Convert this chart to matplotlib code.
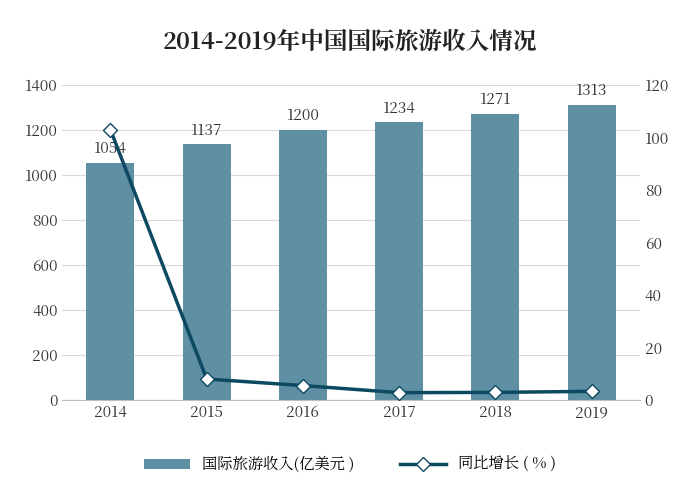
import matplotlib
matplotlib.use("Agg")
import matplotlib.pyplot as plt
from matplotlib import font_manager as fm
import glob

cjk = None
for f in fm.fontManager.ttflist:
    if 'CJK' in f.name and ('SC' in f.name or cjk is None):
        cjk = f.name
if cjk is None:
    files = glob.glob('/usr/share/fonts/**/*CJK*', recursive=True)
    for p in files:
        try:
            fm.fontManager.addfont(p)
        except Exception:
            pass
    for f in fm.fontManager.ttflist:
        if 'CJK' in f.name:
            cjk = f.name
            break
plt.rcParams['font.family'] = [cjk or 'Noto Sans CJK SC', 'DejaVu Sans']

years = ["2014", "2015", "2016", "2017", "2018", "2019"]
income = [1054, 1137, 1200, 1234, 1271, 1313]
growth = [103.0, 8.0, 5.5, 2.8, 2.9, 3.3]
bar_label = "国际旅游收入(亿美元 )"
line_label = "同比增长 ( % )"
title = "2014-2019年中国国际旅游收入情况"

fig = plt.figure(figsize=(7, 5), dpi=100)
ax = fig.add_axes([0.089, 0.2, 0.825, 0.63])
x = range(len(years))
bars = ax.bar(x, income, width=0.5, color="#5e8fa3", label=bar_label, zorder=2)
ax.set_ylim(0, 1400)
ax.set_yticks(range(0, 1401, 200))
ax.set_xlim(-0.5, len(years) - 0.5)
ax.set_xticks(list(x))
ax.set_xticklabels(years)
ax.grid(axis='y', color='#d9d9d9', lw=0.8, zorder=0)
for s in ['top', 'right', 'left']:
    ax.spines[s].set_visible(False)
ax.spines['bottom'].set_color('#bfbfbf')
ax.tick_params(length=0, labelsize=11, colors='#333333')
for i, v in enumerate(income):
    ax.text(i, v + 25, str(v), ha='center', va='bottom', fontsize=11, color='#333333', zorder=5)

ax2 = ax.twinx()
ln, = ax2.plot(list(x), growth, color="#0d4a62", lw=2.5, marker='D', markersize=7,
               markerfacecolor='white', markeredgecolor='#0d4a62', label=line_label, zorder=4)
ax2.set_ylim(0, 120)
ax2.set_yticks(range(0, 121, 20))
for s in ax2.spines.values():
    s.set_visible(False)
ax2.tick_params(length=0, labelsize=11, colors='#333333')

fig.text(0.5, 0.915, title, ha='center', va='center', fontsize=17, fontweight='bold', color='#222222')
fig.legend([bars, ln], [bar_label, line_label], loc='center', bbox_to_anchor=(0.5, 0.07),
           ncol=2, frameon=False, fontsize=11, handlelength=3, columnspacing=3)
fig.savefig("out.png", dpi=100)
